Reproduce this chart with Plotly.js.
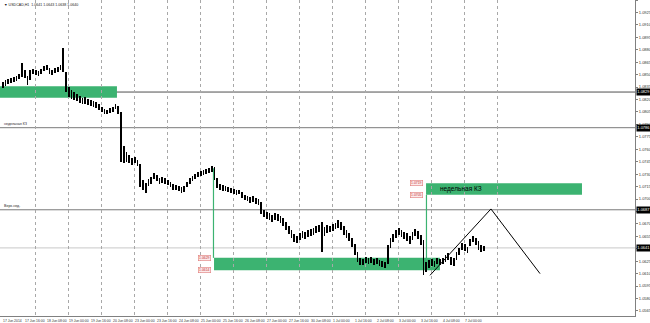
<!DOCTYPE html>
<html><head><meta charset="utf-8">
<script src="https://cdn.plot.ly/plotly-3.0.1.min.js"></script>
<style>html,body{margin:0;padding:0;background:#fff}#c{width:650px;height:323px}</style>
</head><body><div id="c"></div>
<script>
// ---- DATA: USDCAD H2 bars (bar k covers hours 2k..2k+1 from 17 Jun 2014 00:00) ----
const highs = [1.0841,1.0844,1.0845,1.0846,1.0847,1.0848,1.0851,1.0864,1.0856,1.0848,
1.0856,1.0857,1.0856,1.0854,1.0857,1.0860,1.0862,1.0858,1.0856,1.0858,
1.0859,1.0862,1.0882,1.0853,1.0835,1.0832,1.0829,1.0827,1.0824,1.0822,
1.0823,1.0821,1.0819,1.0818,1.0817,1.0815,1.0811,1.0809,1.0807,1.0810,
1.0811,1.0815,1.0812,1.0805,1.0764,1.0757,1.0753,1.0749,1.0751,1.0747,
1.0742,1.0723,1.0719,1.0724,1.0727,1.0731,1.0729,1.0725,1.0727,1.0725,
1.0723,1.0721,1.0718,1.0717,1.0716,1.0715,1.0716,1.0721,1.0725,1.0728,
1.0730,1.0733,1.0734,1.0735,1.0736,1.0737,1.0740,1.0739,1.0725,1.0718,
1.0717,1.0716,1.0715,1.0713,1.0712,1.0711,1.0711,1.0708,1.0705,1.0704,
1.0702,1.0704,1.0701,1.0700,1.0696,1.0687,1.0684,1.0683,1.0681,1.0683,
1.0682,1.0679,1.0677,1.0672,1.0667,1.0663,1.0658,1.0655,1.0659,1.0661,
1.0660,1.0663,1.0664,1.0665,1.0667,1.0669,1.0672,1.0666,1.0669,1.0667,
1.0670,1.0671,1.0675,1.0672,1.0667,1.0663,1.0659,1.0653,1.0646,1.0636,
1.0629,1.0628,1.0630,1.0629,1.0630,1.0628,1.0629,1.0626,1.0625,1.0624,
1.0645,1.0653,1.0658,1.0663,1.0665,1.0663,1.0660,1.0659,1.0655,1.0660,
1.0664,1.0661,1.0657,1.0651,1.0624,1.0626,1.0628,1.0625,1.0629,1.0628,
1.0629,1.0632,1.0635,1.0630,1.0629,1.0636,1.0641,1.0647,1.0646,1.0642,
1.0652,1.0655,1.0653,1.0649,1.0645,1.0643];
const lows = [1.0834,1.0836,1.0839,1.0840,1.0841,1.0842,1.0845,1.0847,1.0846,1.0838,
1.0844,1.0851,1.0850,1.0848,1.0851,1.0854,1.0856,1.0851,1.0850,1.0852,
1.0853,1.0856,1.0853,1.0829,1.0823,1.0821,1.0819,1.0818,1.0816,1.0815,
1.0815,1.0813,1.0812,1.0811,1.0810,1.0807,1.0805,1.0802,1.0802,1.0804,
1.0805,1.0809,1.0802,1.0745,1.0743,1.0745,1.0743,1.0741,1.0743,1.0740,
1.0715,1.0711,1.0707,1.0716,1.0718,1.0724,1.0722,1.0718,1.0719,1.0718,
1.0717,1.0715,1.0711,1.0711,1.0710,1.0707,1.0708,1.0715,1.0718,1.0722,
1.0724,1.0727,1.0728,1.0729,1.0730,1.0731,1.0733,1.0723,1.0713,1.0711,
1.0710,1.0710,1.0708,1.0707,1.0706,1.0705,1.0706,1.0701,1.0699,1.0698,
1.0695,1.0696,1.0694,1.0693,1.0682,1.0678,1.0676,1.0675,1.0672,1.0675,
1.0673,1.0671,1.0667,1.0663,1.0658,1.0653,1.0648,1.0647,1.0651,1.0653,
1.0652,1.0654,1.0655,1.0657,1.0659,1.0660,1.0636,1.0655,1.0659,1.0660,
1.0661,1.0664,1.0665,1.0663,1.0657,1.0653,1.0649,1.0642,1.0632,1.0624,
1.0620,1.0620,1.0623,1.0622,1.0623,1.0620,1.0622,1.0619,1.0618,1.0617,
1.0622,1.0641,1.0648,1.0653,1.0657,1.0654,1.0652,1.0649,1.0646,1.0651,
1.0655,1.0652,1.0645,1.0608,1.0612,1.0617,1.0619,1.0618,1.0622,1.0620,
1.0622,1.0624,1.0626,1.0620,1.0619,1.0626,1.0632,1.0638,1.0637,1.0635,
1.0643,1.0648,1.0645,1.0638,1.0636,1.0637];

// time axis: hour index from 17 Jun 2014 00:00 (trading hours only)
const timeLabelIdx = [0,16,32,48,64,80,96,112,128,144,160,176,192,208,224,240,256,272,288,304,320,336];
const timeLabels = ["17 Jun 2014","17 Jun 16:00","18 Jun 08:00","19 Jun 00:00","19 Jun 16:00","20 Jun 08:00",
"23 Jun 00:00","23 Jun 16:00","24 Jun 08:00","25 Jun 00:00","25 Jun 16:00","26 Jun 08:00","27 Jun 00:00",
"27 Jun 16:00","30 Jun 08:00","1 Jul 00:00","1 Jul 16:00","2 Jul 08:00","3 Jul 00:00","3 Jul 16:00",
"4 Jul 08:00","7 Jul 00:00"];
const daySeparators = [24,48,72,96,120,144,168,192,216,240,264,288,312,336,360];
const priceTicks = [1.0565,1.0580,1.0595,1.0610,1.0625,1.0640,1.0655,1.0670,1.0685,1.0700,1.0715,1.0730,
1.0745,1.0760,1.0775,1.0790,1.0805,1.0820,1.0835,1.0850,1.0865,1.0880,1.0895,1.0910,1.0925,1.0940];

// horizontal levels (price) and their captions
const levelPrices = [1.0829, 1.0786, 1.0687];
const levelCaptions = ["", "недельная КЗ", "Верх.нед."];
const bidPrice = 1.0641;

// zones: [startIdx, endIdx, top, bottom]
const zoneStart = [-3, 154.2, 308.4];
const zoneEnd = [83.6, 318.5, 421.8];
const zoneTop = [1.0836, 1.0629, 1.0719];
const zoneBottom = [1.0822, 1.0614, 1.0705];
const zoneText = ["", "", "недельная КЗ"];
// vertical connectors
const connIdx = [153.8, 308.7];
const connTop = [1.0737, 1.0705];
const connBottom = [1.0629, 1.0614];
// projected path
const pathIdx = [311.3, 355.6, 391.3];
const pathPrice = [1.0608, 1.0688, 1.0610];

const titleText = "▼ USDCAD,H1  1.0641 1.0643 1.0638 1.0640";

// ---- build ----
const barX = highs.map((_, k) => 2 * k + 0.5);
const traces = [
  {type:'bar', x: barX, base: lows, y: highs.map((h,k)=> h - lows[k]), width: 1.3,
   marker:{color:'#000', line:{width:0}}, hoverinfo:'skip', showlegend:false},
  {type:'scatter', mode:'lines', x: pathIdx, y: pathPrice, line:{color:'#000', width:1},
   hoverinfo:'skip', showlegend:false}
];

const FONT = "Liberation Sans, Arial, sans-serif";
const shapes = [];
const annotations = [];

zoneStart.forEach((s, i) => {
  shapes.push({type:'rect', xref:'x', yref:'y', x0:s, x1:zoneEnd[i], y0:zoneBottom[i], y1:zoneTop[i],
    fillcolor:'#3cb371', line:{width:0}, layer:'below'});
  if (zoneText[i]) annotations.push({xref:'x', yref:'y', x: s + 9, y:(zoneTop[i]+zoneBottom[i])/2,
    text: zoneText[i], showarrow:false, xanchor:'left', yanchor:'middle',
    font:{family:FONT, size:6.5, color:'#000'}});
});
connIdx.forEach((c, i) => {
  shapes.push({type:'line', xref:'x', yref:'y', x0:c, x1:c, y0:connBottom[i], y1:connTop[i],
    line:{color:'#3cb371', width:1.2}, layer:'below'});
});
// price labels of zone corners
[1, 2].forEach(zi => {
  [zoneTop[zi], zoneBottom[zi]].forEach(p => {
    annotations.push({xref:'x', yref:'y', x: zoneStart[zi] - 2.5, y: p, text: p.toFixed(4),
      showarrow:false, xanchor:'right', yanchor:'middle', bgcolor:'#fdeaea', bordercolor:'#e07a7a',
      borderwidth:0.6, borderpad:0.5, font:{family:FONT, size:3.4, color:'#c03030'}});
  });
});
levelPrices.forEach((p, i) => {
  shapes.push({type:'line', xref:'paper', yref:'y', x0:0, x1:1, y0:p, y1:p,
    line:{color: i === 0 ? '#505050' : '#7a7a7a', width:1}, layer:'below'});
  if (levelCaptions[i]) annotations.push({xref:'paper', yref:'y', x:0.003, y:p, text:levelCaptions[i],
    showarrow:false, xanchor:'left', yanchor:'bottom', yshift:-0.5, font:{family:FONT, size:3.6, color:'#222'}});
  annotations.push({xref:'paper', yref:'y', x:1, y:p, text:p.toFixed(4), showarrow:false,
    xanchor:'left', yanchor:'middle', xshift:0.5, bgcolor:'#000', borderpad:0.3,
    font:{family:FONT, size:4, color:'#fff'}});
});
shapes.push({type:'line', xref:'paper', yref:'y', x0:0, x1:1, y0:bidPrice, y1:bidPrice,
  line:{color:'#c8c8c8', width:1}, layer:'below'});
annotations.push({xref:'paper', yref:'y', x:1, y:bidPrice, text:bidPrice.toFixed(4), showarrow:false,
  xanchor:'left', yanchor:'middle', xshift:0.5, bgcolor:'#000', borderpad:0.3,
  font:{family:FONT, size:4, color:'#fff'}});

timeLabelIdx.forEach((t, i) => {
  annotations.push({xref:'x', yref:'paper', x:t, y:0, text:timeLabels[i], showarrow:false,
    xanchor:'left', yanchor:'top', yshift:-0.5, xshift:-1, font:{family:FONT, size:3.4, color:'#333'}});
});
annotations.push({xref:'paper', yref:'paper', x:0.003, y:1, text:titleText, showarrow:false,
  xanchor:'left', yanchor:'top', yshift:-1, font:{family:FONT, size:3.6, color:'#222'}});

const layout = {
  width:650, height:323,
  margin:{l:0, r:15, t:0, b:7, pad:0},
  paper_bgcolor:'#fff', plot_bgcolor:'#fff',
  showlegend:false, hovermode:false,
  xaxis:{range:[-1.4545, 460.36], tickvals: daySeparators, showticklabels:false, ticks:'',
    showgrid:true, gridcolor:'#a8a8a8', griddash:'dot', gridwidth:1, zeroline:false,
    showline:true, linecolor:'#808080', linewidth:1, fixedrange:true},
  yaxis:{range:[1.05589, 1.0940], side:'right', tickvals: priceTicks,
    ticktext: priceTicks.map(v => v.toFixed(4)), ticks:'outside', ticklen:2, tickcolor:'#808080',
    showgrid:false, zeroline:false, showline:true, linecolor:'#808080', linewidth:1,
    tickfont:{family:FONT, size:4, color:'#333'}, fixedrange:true},
  shapes: shapes, annotations: annotations, bargap:0
};
Plotly.newPlot('c', traces, layout, {staticPlot:true, displayModeBar:false});
</script></body></html>
